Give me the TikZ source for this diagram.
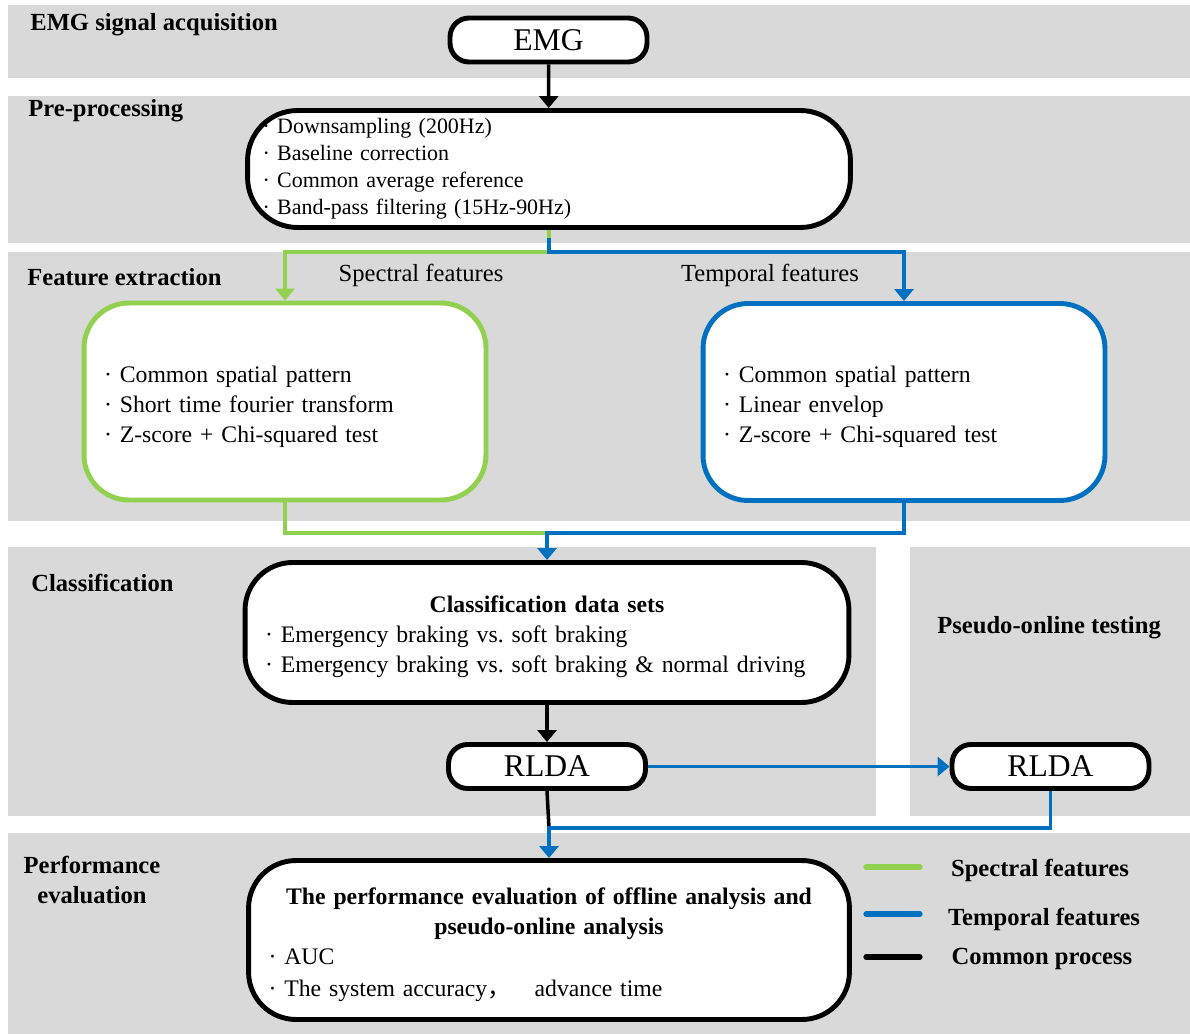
\documentclass[tikz,border=0pt]{standalone}
\usepackage{fontspec}
\setmainfont{Liberation Serif}
\newfontfamily\cjk{Noto Sans CJK SC}
\usetikzlibrary{positioning, arrows.meta}
\definecolor{bandgray}{HTML}{D9D9D9}
\definecolor{specgreen}{HTML}{92D050}
\definecolor{tempblue}{HTML}{0070C0}
\frenchspacing

\begin{document}
\begin{tikzpicture}[
    x=0.02cm, y=-0.02cm,
    every node/.style={font=\fontsize{14}{17}\selectfont},
    bandlabel/.style={font=\fontsize{14}{17}\selectfont\bfseries, anchor=base west, inner sep=0pt},
    pill/.style={draw, line width=2.8pt, fill=white, rounded corners=0.38cm, minimum width=3.94cm, minimum height=0.88cm, font=\fontsize{18}{20}\selectfont},
    listbox/.style={draw, line width=2.8pt, fill=white, rounded corners=0.95cm, align=left, inner xsep=0.4cm, inner ysep=2pt, font=\fontsize{13.5}{17}\selectfont},
    arrow/.style={-{Triangle[width=0.38cm, length=0.24cm]}},
    common/.style={draw=black, line width=2pt},
    specflow/.style={draw=specgreen, line width=1.8pt},
    tempflow/.style={draw=tempblue, line width=1.8pt},
    legendline/.style={line width=3pt, line cap=round},
]
    \useasboundingbox (0,0) rectangle (1190,1034);

    % --- bands ---
    \foreach \xa/\ya/\xb/\yb in {8/5/1190/78, 8/96/1190/243, 8/252/1190/521,
        8/547/876/816, 910/547/1190/816, 8/833/1190/1034}
        \fill[bandgray] (\xa,\ya) rectangle (\xb,\yb);

    \node[bandlabel] (acq) at (30,31) {EMG signal acquisition};
    \node[bandlabel] (prep) at (28,116) {Pre-processing};
    \node[bandlabel] (feat) at (27,285) {Feature extraction};
    \node[bandlabel] (clsl) at (31,591) {Classification};
    \node[bandlabel] (pseudo) at (937,633) {Pseudo-online testing};
    \node[bandlabel, anchor=center, align=center] (perfl) at (92,880) {Performance\\evaluation};

    % --- boxes ---
    \node[pill] (emg) at (548.5,40) {EMG};
    \node[listbox, rounded corners=1cm, inner xsep=0.3cm, text width=11.46cm, minimum height=2.34cm,
        font=\fontsize{12.5}{15.3}\selectfont] (pre) at (549,169)
        {· Downsampling (200Hz)\\ · Baseline correction\\ · Common average reference\\ · Band-pass filtering (15Hz-90Hz)};
    \node[listbox, draw=specgreen, rounded corners=0.9cm, text width=7.24cm, minimum height=3.94cm] (spec) at (285,401.5)
        {\rule{0pt}{15pt}· Common spatial pattern\\ · Short time fourier transform\\ · Z-score + Chi-squared test};
    \node[listbox, draw=tempblue, rounded corners=0.9cm, text width=7.24cm, minimum height=3.94cm] (temp) at (904,402)
        {\rule{0pt}{15pt}· Common spatial pattern\\ · Linear envelop\\ · Z-score + Chi-squared test};
    \node[listbox, text width=11.28cm, minimum height=2.8cm] (cls) at (547,632.5)
        {\rule{0pt}{14pt}\makebox[\hsize]{\bfseries Classification data sets}\\
         · Emergency braking vs. soft braking\\
         · Emergency braking vs. soft braking \& normal driving};
    \node[pill] (rlda) at (547,766.5) {RLDA};
    \node[pill] (prlda) at (1050.5,766.5) {RLDA};
    \node[listbox, text width=11.22cm, minimum height=3.18cm] (perf) at (549,940)
        {\rule{0pt}{15pt}\makebox[\hsize]{\bfseries The performance evaluation of offline analysis and}\\
         \makebox[\hsize]{\bfseries pseudo-online analysis}\\
         · AUC\\[1.5pt]
         · The system accuracy{\cjk ，}\quad advance time};

    \node[anchor=base, inner sep=0pt] (specl) at (421,281) {Spectral features};
    \node[anchor=base, inner sep=0pt] (templ) at (770,281) {Temporal features};

    % --- arrows ---
    \coordinate (merge) at (cls.north |- 0,533);
    \coordinate (join) at (perf.north |- 0,828);
    \draw[common, arrow] (emg) -- (pre);
    \draw[specflow, arrow] (pre.south) -- ++(0,22) -| (spec.north);
    \draw[tempflow, arrow] (pre.south) ++(0,8) -- ++(0,14) -| (temp.north);
    \draw[specflow] (spec.south) |- (merge);
    \draw[tempflow, arrow] (temp.south) |- (merge) -- (cls.north);
    \draw[common, arrow] (cls) -- (rlda);
    \draw[tempflow, arrow] (rlda) -- (prlda);
    \draw[common] (rlda.south) -- (join);
    \draw[tempflow, arrow] (prlda.south) |- (join) -- (perf.north);

    % --- legend ---
    \node[bandlabel, anchor=base] (legs) at (1040,876) {Spectral features};
    \node[bandlabel, anchor=base] (legt) at (1044,925) {Temporal features};
    \node[bandlabel, anchor=base] (legc) at (1042,964) {Common process};
    \coordinate (lgs) at (866,867);
    \coordinate (lgt) at (866,914);
    \coordinate (lgc) at (866,957);
    \draw[legendline, specgreen] (lgs) -- ++(54,0);
    \draw[legendline, tempblue] (lgt) -- ++(54,0);
    \draw[legendline, black] (lgc) -- ++(54,0);
\end{tikzpicture}
\end{document}
